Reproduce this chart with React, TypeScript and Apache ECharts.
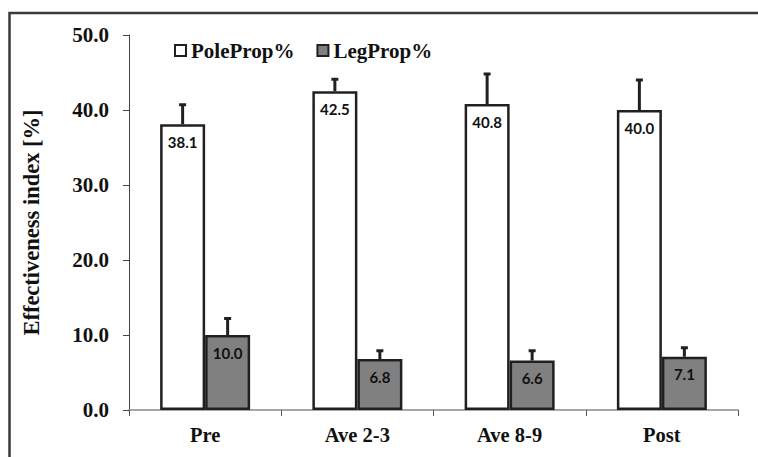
import React, { useEffect, useRef } from "react";
import * as echarts from "echarts";

const categories = ["Pre", "Ave 2-3", "Ave 8-9", "Post"];
const poleValues = [38.1, 42.5, 40.8, 40.0];
const poleUpper = [40.7, 44.1, 44.8, 44.0];
const legValues = [10.0, 6.8, 6.6, 7.1];
const legUpper = [12.2, 7.9, 7.9, 8.3];
const seriesNames = ["PoleProp%", "LegProp%"];
const yTitle = "Effectiveness index [%]";

const BAR_W = 45;
const DARK = "#231f20";
const SERIF = "'Liberation Serif', 'Times New Roman', serif";

function errorSeries(values: number[], upper: number[], sign: number) {
  return {
    type: "custom",
    z: 5,
    silent: true,
    data: values.map((v, i) => [i, v, upper[i]]),
    renderItem: (params: any, api: any) => {
      const i = api.value(0);
      const p0 = api.coord([i, api.value(1)]);
      const p1 = api.coord([i, api.value(2)]);
      const x = p0[0] + (sign * BAR_W) / 2;
      const cap = 3.5;
      return {
        type: "group",
        children: [
          {
            type: "line",
            shape: { x1: x, y1: p0[1], x2: x, y2: p1[1] },
            style: { stroke: DARK, lineWidth: 3 },
          },
          {
            type: "line",
            shape: { x1: x - cap, y1: p1[1], x2: x + cap, y2: p1[1] },
            style: { stroke: DARK, lineWidth: 3 },
          },
        ],
      };
    },
  };
}

export default function App() {
  const ref = useRef<HTMLDivElement>(null);
  useEffect(() => {
    if (!ref.current) return;
    const chart = echarts.init(ref.current, undefined, { renderer: "svg" });
    const barLabel = {
      show: true,
      position: "insideTop",
      distance: 10,
      fontFamily: "Lato, 'Open Sans', sans-serif",
      fontWeight: "bold",
      fontSize: 15,
      color: "#111",
      formatter: (p: any) => Number(p.value).toFixed(1),
    };
    chart.setOption({
      animation: false,
      backgroundColor: "#ffffff",
      graphic: [
        {
          type: "rect",
          shape: { x: 9.5, y: 13, width: 760, height: 460 },
          style: { fill: "none", stroke: "#3a3a3a", lineWidth: 2.5 },
          silent: true,
        },
      ],
      legend: {
        data: seriesNames,
        left: 169,
        top: 35,
        itemWidth: 11,
        itemHeight: 11,
        itemGap: 22,
        icon: "rect",
        itemStyle: { borderColor: DARK, borderWidth: 2 },
        textStyle: { fontFamily: SERIF, fontWeight: "bold", fontSize: 21, color: "#111" },
      },
      grid: { left: 129, right: 20, top: 35, bottom: 47 },
      xAxis: {
        type: "category",
        data: categories,
        axisLine: { lineStyle: { color: "#8a8a8a", width: 1.5 } },
        axisTick: { show: true, length: 6, lineStyle: { color: "#555", width: 1 } },
        axisLabel: { fontFamily: SERIF, fontWeight: "bold", fontSize: 20.5, color: "#111", margin: 14 },
      },
      yAxis: {
        type: "value",
        min: 0,
        max: 50,
        interval: 10,
        name: yTitle,
        nameLocation: "middle",
        nameGap: 86,
        nameTextStyle: { fontFamily: SERIF, fontWeight: "bold", fontSize: 22.5, color: "#111" },
        splitLine: { show: false },
        axisLine: { show: true, lineStyle: { color: "#444", width: 1 } },
        axisTick: { show: true, length: 6, lineStyle: { color: "#444" } },
        axisLabel: {
          fontFamily: SERIF,
          fontWeight: "bold",
          fontSize: 21,
          color: "#111",
          margin: 20,
          formatter: (v: number) => v.toFixed(1),
        },
      },
      series: [
        {
          name: seriesNames[0],
          type: "bar",
          data: poleValues,
          barWidth: BAR_W,
          barGap: "0%",
          itemStyle: { color: "#ffffff", borderColor: DARK, borderWidth: 2.5 },
          label: barLabel,
        },
        {
          name: seriesNames[1],
          type: "bar",
          data: legValues,
          barWidth: BAR_W,
          barGap: "0%",
          itemStyle: { color: "#808080", borderColor: DARK, borderWidth: 2.5 },
          label: barLabel,
        },
        errorSeries(poleValues, poleUpper, -1),
        errorSeries(legValues, legUpper, 1),
      ],
    });
    return () => chart.dispose();
  }, []);
  return (
    <div
      ref={ref}
      style={{ position: "absolute", left: 0, top: 0, width: 758, height: 457 }}
    />
  );
}
